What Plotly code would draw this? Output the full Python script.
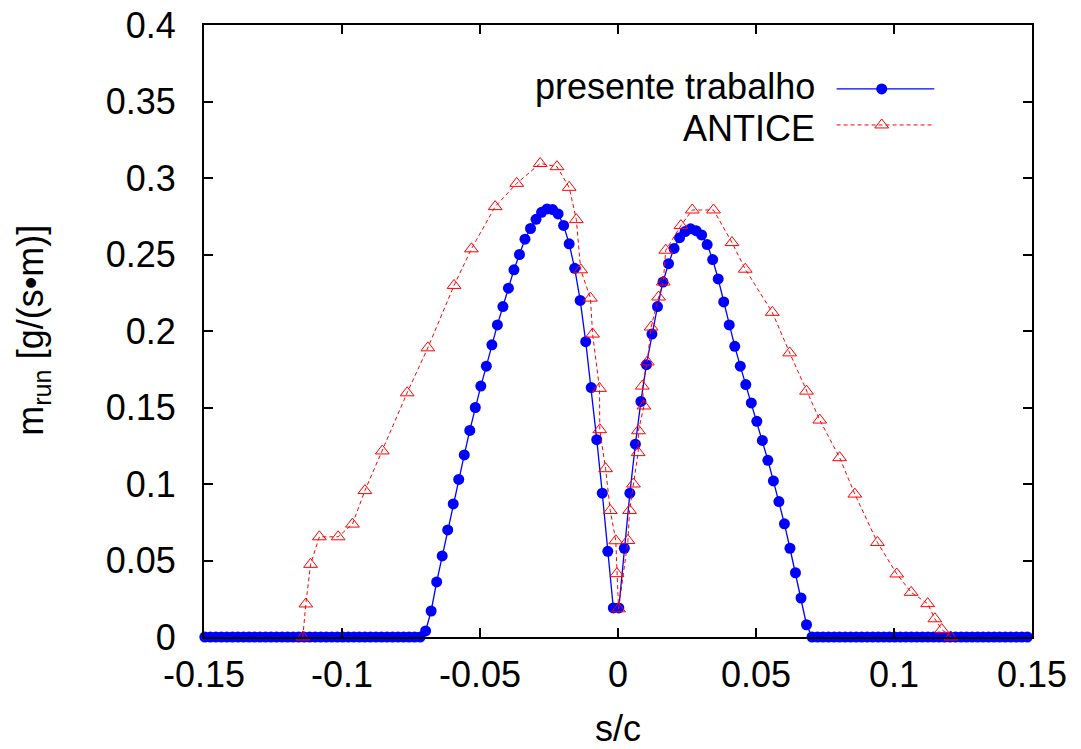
import plotly.graph_objects as go

# ---------------- data ----------------
# presente trabalho (blue, filled circles)
blue_s = [
    -0.1497, -0.1477, -0.1457, -0.1437, -0.1417, -0.1397, -0.1377, -0.1357, -0.1337, -0.1317,
    -0.1297, -0.1277, -0.1257, -0.1237, -0.1217, -0.1197, -0.1177, -0.1157, -0.1137, -0.1117,
    -0.1097, -0.1077, -0.1057, -0.1037, -0.1017, -0.0997, -0.0977, -0.0957, -0.0937, -0.0917,
    -0.0897, -0.0877, -0.0857, -0.0837, -0.0817, -0.0797, -0.0777, -0.0757, -0.0737, -0.0717,
    -0.0697, -0.0677, -0.0657, -0.0637, -0.0617, -0.0597, -0.0577, -0.0557, -0.0537, -0.0517,
    -0.0497, -0.0477, -0.0457, -0.0437, -0.0417, -0.0397, -0.0377, -0.0357, -0.0337, -0.0317,
    -0.0297, -0.0277, -0.0257, -0.0237, -0.0217, -0.0197, -0.0177, -0.0157, -0.0137, -0.0117,
    -0.0097, -0.0077, -0.0057, -0.0037, -0.0017, 0.0003, 0.0023, 0.0043, 0.0063, 0.0083,
    0.0103, 0.0123, 0.0143, 0.0163, 0.0183, 0.0203, 0.0223, 0.0243, 0.0263, 0.0283,
    0.0303, 0.0323, 0.0343, 0.0363, 0.0383, 0.0403, 0.0423, 0.0443, 0.0463, 0.0483,
    0.0503, 0.0523, 0.0543, 0.0563, 0.0583, 0.0603, 0.0623, 0.0643, 0.0663, 0.0683,
    0.0703, 0.0723, 0.0743, 0.0763, 0.0783, 0.0803, 0.0823, 0.0843, 0.0863, 0.0883,
    0.0903, 0.0923, 0.0943, 0.0963, 0.0983, 0.1003, 0.1023, 0.1043, 0.1063, 0.1083,
    0.1103, 0.1123, 0.1143, 0.1163, 0.1183, 0.1203, 0.1223, 0.1243, 0.1263, 0.1283,
    0.1303, 0.1323, 0.1343, 0.1363, 0.1383, 0.1403, 0.1423, 0.1443, 0.1463, 0.1483,
]
blue_m = [
    0, 0, 0, 0, 0, 0, 0, 0, 0, 0,
    0, 0, 0, 0, 0, 0, 0, 0, 0, 0,
    0, 0, 0, 0, 0, 0, 0, 0, 0, 0,
    0, 0, 0, 0, 0, 0, 0, 0, 0, 0,
    0.004, 0.017, 0.036, 0.053, 0.070, 0.087, 0.103, 0.119, 0.135, 0.150,
    0.164, 0.177, 0.191, 0.204, 0.216, 0.228, 0.240, 0.250, 0.260, 0.267,
    0.273, 0.2776, 0.2798, 0.2794, 0.2765, 0.269, 0.257, 0.241, 0.220, 0.193,
    0.163, 0.129, 0.094, 0.056, 0.019, 0.019, 0.058, 0.094, 0.126, 0.154,
    0.178, 0.198, 0.216, 0.232, 0.244, 0.254, 0.261, 0.265, 0.2668, 0.2656,
    0.2628, 0.2565, 0.2467, 0.234, 0.219, 0.204, 0.190, 0.177, 0.165, 0.153,
    0.141, 0.1285, 0.1155, 0.102, 0.0885, 0.074, 0.058, 0.042, 0.0255, 0.008,
    0, 0, 0, 0, 0, 0, 0, 0, 0, 0,
    0, 0, 0, 0, 0, 0, 0, 0, 0, 0,
    0, 0, 0, 0, 0, 0, 0, 0, 0, 0,
    0, 0, 0, 0, 0, 0, 0, 0, 0, 0,
]

# ANTICE (red, open triangles, dashed)
antice_s = [
    -0.1142, -0.1131, -0.1114, -0.1082, -0.1014, -0.0962, -0.0917, -0.0854, -0.0764, -0.0689,
    -0.0594, -0.0531, -0.0445, -0.0367, -0.0282, -0.0221, -0.0177, -0.0151, -0.0135, -0.0100,
    -0.0092, -0.0067, -0.0066, -0.0045, -0.0028, -0.0008, -0.0004, 0.0002, 0.0036, 0.0042,
    0.0056, 0.0073, 0.0074, 0.0094, 0.0088, 0.0106, 0.0120, 0.0147, 0.0164, 0.0173,
    0.0228, 0.0269, 0.0346, 0.0413, 0.0461, 0.0559, 0.0622, 0.0683, 0.0731, 0.0803,
    0.0858, 0.0940, 0.1010, 0.1062, 0.1122, 0.1148, 0.1173, 0.1206,
]
antice_m = [
    0.0, 0.0216, 0.0475, 0.0655, 0.0655, 0.0738, 0.0957, 0.1216, 0.1596, 0.189,
    0.2298, 0.2537, 0.2813, 0.2965, 0.3095, 0.3074, 0.2939, 0.2728, 0.240, 0.2215,
    0.198, 0.1625, 0.1355, 0.110, 0.0827, 0.0629, 0.0414, 0.0184, 0.0631, 0.0827,
    0.100, 0.1205, 0.1348, 0.151, 0.164, 0.1798, 0.2026, 0.2222, 0.232, 0.2528,
    0.2689, 0.2791, 0.2791, 0.2578, 0.2404, 0.2122, 0.1857, 0.1607, 0.1418, 0.1172,
    0.0934, 0.0618, 0.0412, 0.0292, 0.0218, 0.0119, 0.0049, 0.0,
]

series_names = ["presente trabalho", "ANTICE"]
x_tickvals = [-0.15, -0.1, -0.05, 0, 0.05, 0.1, 0.15]
x_ticktext = ["-0.15", "-0.1", "-0.05", "0", "0.05", "0.1", "0.15"]
y_tickvals = [0, 0.05, 0.1, 0.15, 0.2, 0.25, 0.3, 0.35, 0.4]
y_ticktext = ["0", "0.05", "0.1", "0.15", "0.2", "0.25", "0.3", "0.35", "0.4"]

# ---------------- style ----------------
FONT = "Liberation Sans, Arial, sans-serif"
FS = 36
BLUE = "#0000ff"
RED = "#ff0000"

fig = go.Figure()

fig.add_trace(go.Scatter(
    x=blue_s, y=blue_m, mode="lines+markers", name=series_names[0],
    line=dict(color=BLUE, width=1.3),
    marker=dict(color=BLUE, size=11),
    cliponaxis=False, showlegend=False,
))
fig.add_trace(go.Scatter(
    x=antice_s, y=antice_m, mode="lines+markers", name=series_names[1],
    line=dict(color=RED, width=1, dash="4px,3px"),
    marker=dict(symbol="triangle-up-open", color=RED, size=12, line=dict(width=1, color=RED)),
    cliponaxis=False, showlegend=False,
))

# legend samples (symbol on the right of text, as in the reference)
leg_y = [0.8955, 0.8367]        # sample lines
leg_text_y = [0.8988, 0.8302]   # label centres
fig.add_trace(go.Scatter(x=[0.764, 0.882], y=[leg_y[0], leg_y[0]], mode="lines",
                         line=dict(color=BLUE, width=1.3), xaxis="x2", yaxis="y2",
                         showlegend=False, hoverinfo="skip"))
fig.add_trace(go.Scatter(x=[0.8185], y=[leg_y[0]], mode="markers",
                         marker=dict(color=BLUE, size=11), xaxis="x2", yaxis="y2",
                         showlegend=False, hoverinfo="skip"))
fig.add_trace(go.Scatter(x=[0.764, 0.882], y=[leg_y[1], leg_y[1]], mode="lines",
                         line=dict(color=RED, width=1, dash="4px,3px"), xaxis="x2", yaxis="y2",
                         showlegend=False, hoverinfo="skip"))
fig.add_trace(go.Scatter(x=[0.8185], y=[leg_y[1]], mode="markers",
                         marker=dict(symbol="triangle-up-open", color=RED, size=12,
                                     line=dict(width=1, color=RED)),
                         xaxis="x2", yaxis="y2", showlegend=False, hoverinfo="skip"))

annotations = [
    dict(x=0.74, y=leg_text_y[0], xref="paper", yref="paper", text=series_names[0],
         showarrow=False, xanchor="right", yanchor="middle",
         font=dict(family=FONT, size=FS, color="black")),
    dict(x=0.74, y=leg_text_y[1], xref="paper", yref="paper", text=series_names[1],
         showarrow=False, xanchor="right", yanchor="middle",
         font=dict(family=FONT, size=FS, color="black")),
    dict(x=0.5, y=-0.149, xref="paper", yref="paper", text="s/c",
         showarrow=False, xanchor="center", yanchor="middle",
         font=dict(family=FONT, size=FS, color="black")),
    dict(x=-0.2065, y=0.5004, xref="paper", yref="paper",
         text="m<sub>run</sub> [g/(s•m)]", textangle=-90,
         showarrow=False, xanchor="center", yanchor="middle",
         font=dict(family=FONT, size=FS, color="black")),
]

axis_common = dict(
    showline=True, linecolor="black", linewidth=2, mirror="ticks",
    ticks="inside", ticklen=9, tickwidth=1.5, tickcolor="black",
    showgrid=False, zeroline=False, automargin=False,
    ticklabeloverflow="allow",
    tickfont=dict(family=FONT, size=FS, color="black"),
)

fig.update_layout(
    width=1081, height=749,
    margin=dict(l=204, r=49, t=25, b=112),
    paper_bgcolor="white", plot_bgcolor="white",
    font=dict(family=FONT, size=FS, color="black"),
    xaxis=dict(range=[-0.15, 0.15], tickvals=x_tickvals, ticktext=x_ticktext,
               ticklabelstandoff=5, **axis_common),
    yaxis=dict(range=[0, 0.4], tickvals=y_tickvals, ticktext=y_ticktext,
               ticklabelstandoff=19, **axis_common),
    xaxis2=dict(range=[0, 1], overlaying="x", visible=False, fixedrange=True),
    yaxis2=dict(range=[0, 1], overlaying="y", visible=False, fixedrange=True),
    annotations=annotations,
    showlegend=False,
)

# remove the default page margin so the 1081x749 figure fills the window exactly
fig.write_html("out.html", config={"displayModeBar": False},
               post_script="document.body.style.margin='0px';")
